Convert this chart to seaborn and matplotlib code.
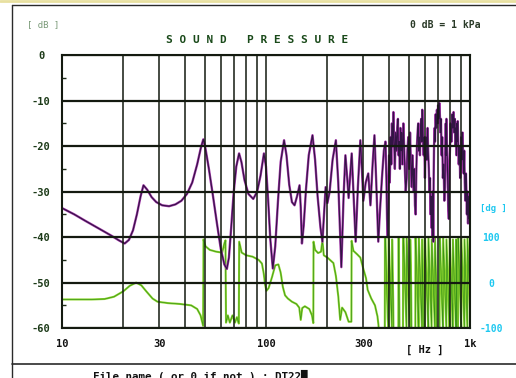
import matplotlib
matplotlib.use('Agg')
import matplotlib.pyplot as plt
import seaborn as sns
from matplotlib.lines import Line2D
from matplotlib.patches import Rectangle

# magnitude (Hz, dB re 1 kPa)
mag_freq = [10, 11.5, 13, 14.5, 16, 17.5, 19, 20.3, 21.3, 22.3, 23.3, 24.3, 25.1, 26.2, 27.5, 29, 31, 33.5, 36,
            38.5, 41, 43.5, 46, 48, 49.3, 50.5, 52.5, 55, 57.5, 60, 62.5, 64.3, 65.8, 67.5, 69.5, 71.5, 73.8,
            75.8, 78.5, 82, 86.6, 90.5, 94, 97.7, 100, 102.5, 105, 108, 111, 114.5, 118, 122.6, 126, 130, 134,
            138, 142, 146, 148, 150, 153, 157, 162, 169, 174, 179, 185, 189, 193, 196, 200, 205, 212, 220, 226,
            234, 240, 245, 250, 254, 258, 263, 268, 275, 282, 290, 295, 300, 308, 317, 325, 333, 340, 347, 355,
            362, 370, 378, 385, 389, 392, 395, 398, 401, 404, 408, 411, 414, 418, 421, 424, 428, 432, 437, 440,
            443, 446, 450, 453, 456, 459, 462, 466, 471, 475, 480, 484, 489, 493, 498, 503, 508, 513, 518, 522,
            526, 530, 533, 537, 541, 545, 549, 553, 557, 560, 563, 568, 572, 576, 580, 583, 587, 592, 596, 601,
            605, 610, 614, 619, 623, 628, 632, 636, 640, 644, 648, 651, 654, 657, 660, 663, 666, 670, 673, 678,
            683, 688, 693, 697, 702, 707, 711, 716, 720, 725, 730, 736, 742, 748, 753, 757, 760, 763, 766, 771,
            776, 781, 787, 792, 798, 804, 811, 817, 823, 830, 836, 842, 847, 853, 858, 862, 866, 870, 874, 880,
            888, 894, 901, 906, 912, 918, 924, 930, 936, 942, 948, 954, 960, 965, 970, 977, 985, 992, 1000]
mag_db = [-33.6, -35.0, -36.4, -37.6, -38.7, -39.7, -40.7, -41.4, -40.6, -38.5, -35, -31, -28.6, -29.6, -31.2,
          -32.3, -33, -33.2, -32.8, -32, -30.5, -28, -24, -20.3, -18.5, -20.5, -25, -31, -37, -42.5, -46, -47,
          -44.5, -38, -30, -24.5, -21.6, -23.5, -27.5, -30.5, -31.6, -30, -26.5, -21.6, -24.5, -32, -40.5,
          -46.9, -42, -32, -23.5, -18.7, -22, -28.5, -32.3, -33, -31, -28.6, -33.5, -41.4, -37.5, -29.5, -22,
          -17.6, -23, -31, -38, -41, -34, -29, -32.5, -30, -23, -18.7, -28, -46.6, -31, -22, -27, -31.4, -27,
          -21.6, -30, -41, -29, -18.7, -25, -32, -28, -26, -33, -24, -17.6, -28, -41,
          -34, -27, -21, -19, -27, -36, -40, -30, -22, -28, -18, -24, -15, -20, -12.5, -18, -25, -17, -21, -16,
          -14, -22, -19, -25, -16, -21, -17, -24, -15, -20, -26, -30, -27, -21, -18, -25, -17, -24, -29, -22,
          -26, -30, -25, -33, -35, -26, -20, -17, -15, -21, -18, -22, -16, -14, -19, -12, -17, -22, -18, -27,
          -21, -18, -23, -16, -21, -25, -30, -27, -35, -31, -38, -33, -40, -30, -41, -27, -20, -16, -19, -13,
          -16, -12, -15, -11, -14, -10.5, -13, -17, -14, -22, -18, -27, -24, -32, -29, -20, -15, -22, -14, -21,
          -26, -33, -36, -25, -20, -15, -19, -13, -16, -12.5, -17, -14, -20, -16, -22, -15, -19, -14.5, -18, -24,
          -20, -27, -24, -18, -23, -17, -22, -26, -21, -28, -32, -26, -30, -35, -30, -37, -31, -36, -33]

# phase (degrees); the screen only shows -100..100, the rest is clipped
phase_freq = [10, 14, 16.2, 18, 20, 21.5, 23.1, 24.5, 26, 27.8, 29.4, 33, 38, 43, 46, 47.8, 49.2, 49.4, 50.5,
              53, 57, 61, 62.5, 63.3, 63.7, 65, 66.5, 68.5, 70.5, 72, 73.6, 73.9, 76, 80, 86, 92, 95.5, 97.5,
              99, 100.5, 103, 107, 111, 115, 118, 121, 124, 128, 134, 141, 145.5, 148, 150.5, 155, 163, 168,
              170.5, 171, 174, 180, 186, 189, 192, 200, 214, 220, 226, 231, 236, 245, 254, 262, 262.8, 268, 280,
              290, 300, 309, 315, 328, 342, 352, 356, 360, 382,
              383, 385, 390, 395, 398, 399, 405, 411, 414, 415, 420, 422, 445, 446, 448, 449, 451, 452, 469,
              470, 472, 479, 486, 488, 489, 496, 503, 508, 509, 514, 517, 539,
              540, 542, 550, 557, 560, 561, 569, 577, 581, 582, 588, 590, 599,
              600, 602, 611, 620, 624, 625, 634, 643, 648, 649, 659, 668, 672, 673, 682, 688, 709,
              710, 712, 722, 732, 737, 738, 749, 760, 765, 766, 777, 788, 793, 794, 806, 818, 823, 824, 836, 848,
              853, 854, 858, 860, 872,
              873, 876, 888, 900, 905, 906, 919, 932, 938, 939, 952, 965, 970, 971, 985, 1000]
phase_deg = [-37, -37, -36, -31, -19, -7, 0, -6, -20, -35, -42, -45, -47, -50, -58, -72, -95, 95, 80,
             72, 68, 66, 86, 93, -88, -72, -88, -72, -88, -76, -90, 90, 66, 60, 57, 50, 42, 20,
             -5, -18, -12, 12, 38, 40, 22, -10, -28, -35, -42, -47, -55, -82, -56, -52, -58, -72,
             -89, 90, 72, 65, 68, 92, 60, 55, 43, 15, -30, -82, -55, -65, -86, -86, 92, 70, 62,
             55, 30, 10, -16, -35, -50, -75, -95, -140, -140,
             150, 95, 0, -80, -100, 100, 20, -60, -100, 95, -40, -140, -140, 140, 95, 0, -95, -140, -140,
             150, 95, 10, -80, -100, 100, 20, -60, -100, 95, 0, -140, -140,
             150, 95, 0, -80, -100, 100, 20, -60, -100, 95, -20, -140, -140,
             150, 95, 10, -70, -100, 100, 20, -60, -100, 95, 10, -70, -100, 100, 0, -140, -140,
             150, 95, 10, -70, -100, 100, 20, -60, -100, 95, 10, -70, -100, 100, 20, -60, -100, 95, 10, -70,
             -100, 95, 40, -140, -140,
             150, 95, 10, -70, -100, 100, 20, -60, -100, 95, 10, -70, -100, 100, 20, -60]

db_ticks = [0, -10, -20, -30, -40, -50, -60]
db_minor = [-5, -15, -25, -35, -45, -55]
phase_ticks = [-100, 0, 100]
freq_ticks = [10, 30, 100, 300, 1000]
freq_labels = ['10', '30', '100', '300', '1k']
grid_freqs = [20, 40, 50, 60, 70, 80, 90, 200, 400, 500, 600, 700, 800, 900]

sns.set_style('white')
plt.rcParams['font.family'] = ['DejaVu Sans Mono']
plt.rcParams['font.weight'] = 'bold'

fig = plt.figure(figsize=(5.16, 3.78), dpi=100)
ax = fig.add_axes([0.120, 0.132, 0.791, 0.722])
ax2 = ax.twinx()

# phase on its own scale: -100..100 deg fills the -60..-40 dB band
sns.lineplot(x=phase_freq, y=phase_deg, ax=ax2, estimator=None, sort=False, color='#8cd42e', lw=1.5)
sns.lineplot(x=phase_freq, y=phase_deg, ax=ax2, estimator=None, sort=False, color='#3a9418', lw=0.5)
ax2.set_ylim(-100, 500)
window = Rectangle((10, -100), 990, 200, transform=ax2.transData)
for ln in ax2.get_lines():
    ln.set_clip_path(window)
ax2.set_yticks(phase_ticks)
ax2.set_yticklabels([str(t) for t in phase_ticks])
ax2.tick_params(axis='y', length=0, pad=15, labelsize=7, labelcolor='#1ec8f0')
for lab in ax2.get_yticklabels():
    lab.set_ha('center')
for s in ax2.spines.values():
    s.set_visible(False)
ax2.set_ylabel('')

# magnitude on top
ax.set_zorder(ax2.get_zorder() + 1)
ax.patch.set_visible(False)
sns.lineplot(x=mag_freq, y=mag_db, ax=ax, estimator=None, sort=False, color='#a236a8', lw=1.7)
sns.lineplot(x=mag_freq, y=mag_db, ax=ax, estimator=None, sort=False, color='#321444', lw=0.8)

ax.set_xscale('log')
ax.set_xlim(10, 1000)
ax.set_ylim(-60, 0)
ax.set_xticks(freq_ticks)
ax.set_xticklabels(freq_labels)
ax.set_xticks(grid_freqs, minor=True)
ax.set_xticklabels([], minor=True)
ax.set_yticks(db_ticks)
ax.set_yticklabels([str(t) for t in db_ticks])
ax.set_yticks(db_minor, minor=True)
for lab in ax.get_yticklabels():
    lab.set_ha('center')
ax.tick_params(axis='x', which='both', length=0, pad=8, labelsize=7.5, labelcolor='#111111')
ax.tick_params(axis='y', which='major', length=0, pad=15, labelsize=7.5, labelcolor='#1c3a18')
ax.tick_params(axis='y', which='minor', direction='in', length=3, width=1, color='#1c2a18')
ax.set_axisbelow(False)
ax.grid(True, axis='x', which='both', color='#141a10', lw=1.1)
ax.grid(True, axis='y', which='major', color='#141a10', lw=1.6)
for s in ax.spines.values():
    s.set_visible(True)
    s.set_color('#141a10')
    s.set_linewidth(1.5)
ax.set_xlabel('')
ax.set_ylabel('')

ax.text(0.89, -0.06, '[ Hz ]', transform=ax.transAxes, ha='center', va='top',
        fontsize=7.5, color='#111111')
fig.text(0.499, 0.894, 'S O U N D   P R E S S U R E', ha='center', va='center',
         fontsize=8, color='#1a4a1a')
fig.text(0.084, 0.934, '[ dB ]', ha='center', va='center', fontsize=6.5,
         color='#7a9a78', fontweight='normal')
fig.text(0.862, 0.934, '0 dB = 1 kPa', ha='center', va='center', fontsize=7,
         color='#2a3a28')
fig.text(0.957, 0.449, '[dg ]', ha='center', va='center', fontsize=6.5, color='#1ec8f0')
fig.text(0.180, 0.022, 'File name ( or 0 if not ) : DT22\u2588', ha='left', va='top',
         fontsize=7.8, color='#111111')

# screen frame
fig.add_artist(Line2D([0.023, 0.023], [0, 0.987], color='#2a2a2a', lw=1))
fig.add_artist(Line2D([0.023, 1], [0.987, 0.987], color='#2a2a2a', lw=1))
fig.add_artist(Line2D([0.023, 1], [0.037, 0.037], color='#2a2a2a', lw=1.2))
fig.add_artist(Line2D([0, 1], [0.997, 0.997], color='#e8e0a0', lw=2))

fig.savefig('out.png', dpi=100)
